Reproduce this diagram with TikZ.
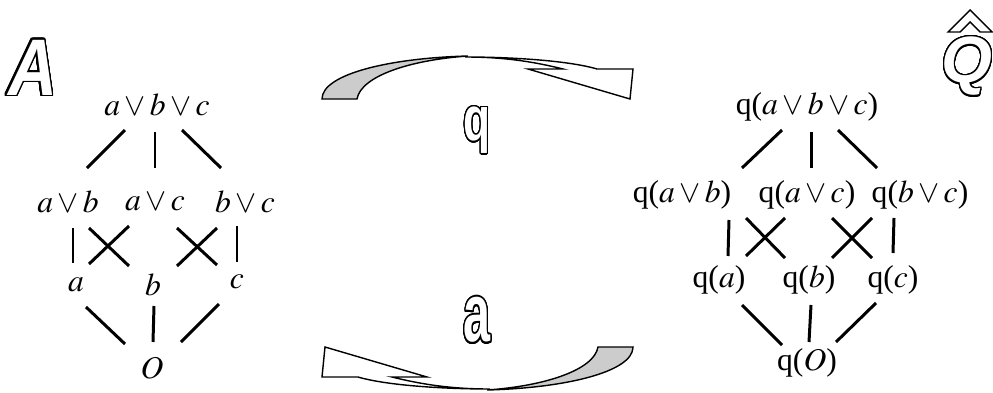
\documentclass[tikz,border=0pt]{standalone}
\usepackage{mathptmx}
\usepackage[no-math]{fontspec}
\setmainfont{Liberation Serif}
\newfontfamily\hollowfont{Liberation Sans}
\usepackage{contour}
\contourlength{0.9pt}
\contournumber{32}
\definecolor{tailgray}{gray}{0.8}
\newcommand{\hollow}[3]{\resizebox*{#1}{#2}{\fontsize{40}{40}\selectfont\color{white}\contour{black}{#3}}}
% one bent arrow, tail on the right, head on the left
\newcommand{\bentarrow}{%
	\filldraw[fill=white,line width=0.8pt] (325,347) -- (427,377) -- (392,377) .. controls (420,384) and (450,389) .. (490,389) .. controls (440,389) and (385,385) .. (358,377) -- (322,377) -- cycle;
	\filldraw[fill=tailgray,line width=0.8pt] (598,347) -- (633,347) .. controls (633,372) and (565,388) .. (487,390) .. controls (545,386) and (594,370) .. (598,347) -- cycle;
}

\begin{document}
\begin{tikzpicture}[x=0.02cm,y=-0.02cm,
		lat/.style={inner sep=0pt,font=\fontsize{18}{21}\selectfont},
		link/.style={line width=1.7pt}]
				\useasboundingbox (0,0) rectangle (993,392);
				
				% TODO: Lattice of A
				\node[lat] (abc) at (157,105) {$a\vee b\vee c$};
				\node[lat] (ab) at (68,202) {$a\vee b$};
				\node[lat] (ac) at (155,202) {$a\vee c$};
				\node[lat] (bc) at (245,202) {$b\vee c$};
				\node[lat] (a) at (76,285) {$a$};
				\node[lat] (b) at (153,285) {$b$};
				\node[lat] (c) at (237,282) {$c$};
				\node[lat] (o) at (152,368) {$O$};
				
				\draw[link] ([shift={(-32,25)}]abc.center) -- ([shift={(19,-34)}]ab.center);
				\draw[link] ([shift={(-2,27)}]abc.center) -- ([shift={(0,-34)}]ac.center);
				\draw[link] ([shift={(25,25)}]abc.center) -- ([shift={(-24,-34)}]bc.center);
				\draw[link] ([shift={(5,26)}]ab.center) -- ([shift={(-3,-22)}]a.center);
				\draw[link] ([shift={(21,26)}]ab.center) -- ([shift={(-24,-19)}]b.center);
				\draw[link] ([shift={(-26,24)}]ac.center) -- ([shift={(13,-21)}]a.center);
				\draw[link] ([shift={(22,26)}]ac.center) -- ([shift={(-20,-17)}]c.center);
				\draw[link] ([shift={(-28,26)}]bc.center) -- ([shift={(24,-19)}]b.center);
				\draw[link] ([shift={(-8,24)}]bc.center) -- ([shift={(0,-20)}]c.center);
				\draw[link] ([shift={(10,22)}]a.center) -- ([shift={(-27,-24)}]o.center);
				\draw[link] ([shift={(1,21)}]b.center) -- ([shift={(1,-26)}]o.center);
				\draw[link] ([shift={(-18,22)}]c.center) -- ([shift={(29,-26)}]o.center);
				
				% TODO: Lattice of the quotient
				\node[lat] (qabc) at (807,107) {q($a\vee b\vee c$)};
				\node[lat] (qab) at (682,195) {q($a\vee b$)};
				\node[lat] (qac) at (807,195) {q($a\vee c$)};
				\node[lat] (qbc) at (920,195) {q($b\vee c$)};
				\node[lat] (qa) at (719,280) {q($a$)};
				\node[lat] (qb) at (809,280) {q($b$)};
				\node[lat] (qc) at (893,280) {q($c$)};
				\node[lat] (qo) at (807,363) {q($O$)};
				
				\draw[link] ([shift={(-25,23)}]qabc.center) -- ([shift={(60,-27)}]qab.center);
				\draw[link] ([shift={(4,25)}]qabc.center) -- ([shift={(4,-27)}]qac.center);
				\draw[link] ([shift={(31,23)}]qabc.center) -- ([shift={(-43,-27)}]qbc.center);
				\draw[link] ([shift={(47,25)}]qab.center) -- ([shift={(9,-24)}]qa.center);
				\draw[link] ([shift={(64,23)}]qab.center) -- ([shift={(-24,-22)}]qb.center);
				\draw[link] ([shift={(-22,23)}]qac.center) -- ([shift={(27,-24)}]qa.center);
				\draw[link] ([shift={(25,23)}]qac.center) -- ([shift={(-21,-22)}]qc.center);
				\draw[link] ([shift={(-48,23)}]qbc.center) -- ([shift={(23,-22)}]qb.center);
				\draw[link] ([shift={(-26,23)}]qbc.center) -- ([shift={(0,-27)}]qc.center);
				\draw[link] ([shift={(23,25)}]qa.center) -- ([shift={(-25,-18)}]qo.center);
				\draw[link] ([shift={(2,25)}]qb.center) -- ([shift={(2,-21)}]qo.center);
				\draw[link] ([shift={(-17,23)}]qc.center) -- ([shift={(29,-21)}]qo.center);
				
				% TODO: Bent arrows between the two lattices
				\bentarrow
				\begin{scope}[rotate around={180:(477.5,223)}]
					\bentarrow
				\end{scope}
				\node[inner sep=0pt] (qmap) at (477,131) {\hollowfont\bfseries\hollow{0.54cm}{0.96cm}{q}};
				\node[inner sep=0pt] (amap) at (477,321) {\hollowfont\bfseries\hollow{0.54cm}{0.94cm}{a}};
				
				% TODO: Set names in the corners
				\node[inner sep=0pt] (aset) at (32.5,68.5) {\hollowfont\bfseries\itshape\hollow{0.98cm}{1.14cm}{A}};
				\node[inner sep=0pt] (qset) at (967,67) {\hollowfont\bfseries\itshape\hollow{1.02cm}{1.2cm}{Q}};
				\draw[line width=0.8pt] (948,32) -- (970,10) -- (992,32) -- (980,32) -- (970,22) -- (960,32) -- cycle;
			\end{tikzpicture}
\end{document}
